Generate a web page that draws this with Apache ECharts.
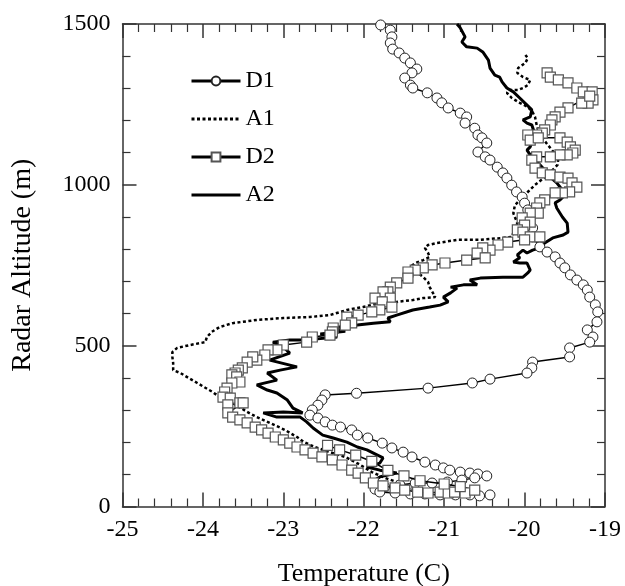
<!DOCTYPE html>
<html>
<head>
<meta charset="utf-8">
<script src="https://cdn.jsdelivr.net/npm/echarts@6/dist/echarts.min.js"></script>
<style>
  html, body { margin: 0; padding: 0; background: #fff; }
  #chart { width: 625px; height: 586px; }
</style>
</head>
<body>
<div id="chart"></div>
<script>
// Temperature profiles: each point is [temperature (C), radar altitude (m)]
const seriesNames = ['D1', 'A1', 'D2', 'A2'];

const d1 = [
  [-21.79,1497],[-21.67,1481],[-21.65,1460],[-21.67,1441],[-21.64,1422],[-21.56,1410],
  [-21.49,1394],[-21.42,1379],[-21.34,1360],[-21.40,1348],[-21.49,1332],[-21.42,1310],
  [-21.39,1301],[-21.21,1286],[-21.09,1270],[-21.03,1255],[-20.95,1239],[-20.80,1223],
  [-20.72,1211],[-20.74,1192],[-20.62,1176],[-20.58,1155],[-20.53,1146],[-20.47,1130],
  [-20.58,1102],[-20.49,1087],[-20.43,1077],[-20.34,1055],[-20.27,1037],[-20.22,1021],
  [-20.16,999],[-20.10,978],[-20.03,962],[-20.00,943],[-19.96,922],[-19.93,897],
  [-19.90,866],[-19.90,838],[-19.81,807],[-19.72,791],[-19.62,776],[-19.56,757],
  [-19.50,742],[-19.43,720],[-19.35,704],[-19.27,689],[-19.22,673],[-19.19,651],
  [-19.12,627],[-19.09,605],[-19.10,574],[-19.22,549],[-19.15,527],[-19.19,511],
  [-19.44,493],[-19.44,465],[-19.90,449],[-19.91,431],[-19.97,415],[-20.43,396],
  [-20.65,384],[-21.20,368],[-22.09,352],[-22.48,347],[-22.52,331],[-22.57,315],
  [-22.64,300],[-22.67,284],[-22.57,275],[-22.48,263],[-22.39,253],[-22.29,247],
  [-22.15,238],[-22.08,222],[-21.95,213],[-21.77,197],[-21.65,182],[-21.51,169],
  [-21.40,154],[-21.24,138],[-21.11,129],[-21.01,120],[-20.93,113],[-20.80,107],
  [-20.68,104],[-20.58,101],[-20.47,95],[-20.62,89],[-20.78,82],[-20.96,76],
  [-21.15,73],[-21.36,73],[-21.55,67],[-21.74,61],[-21.86,54],[-21.80,45],
  [-21.61,42],[-21.42,39],[-21.24,39],[-21.05,36],[-20.86,36],[-20.68,36],
  [-20.56,33],[-20.43,36]
];

const a1 = [
  [-19.99,1404],[-19.96,1394],[-19.99,1379],[-20.08,1363],[-20.09,1348],[-20.02,1335],
  [-19.93,1326],[-19.96,1310],[-20.02,1301],[-20.08,1295],[-20.18,1295],[-20.22,1286],
  [-20.16,1270],[-20.06,1255],[-19.96,1242],[-19.90,1226],[-19.87,1211],[-19.85,1186],
  [-19.81,1155],[-19.71,1124],[-19.58,1083],[-19.59,1062],[-19.71,1031],[-19.87,1000],
  [-20.00,968],[-20.12,937],[-20.14,912],[-20.09,881],[-20.16,838],[-20.27,835],
  [-20.55,829],[-20.84,829],[-21.09,819],[-21.20,813],[-21.24,804],[-21.20,788],
  [-21.18,776],[-21.26,766],[-21.36,757],[-21.42,745],[-21.34,729],[-21.26,713],
  [-21.20,698],[-21.18,682],[-21.14,664],[-21.11,651],[-21.26,648],[-21.39,642],
  [-21.59,636],[-21.80,633],[-22.01,620],[-22.21,611],[-22.42,595],[-22.67,589],
  [-23.00,586],[-23.33,580],[-23.63,570],[-23.79,558],[-23.89,543],[-23.95,527],
  [-23.97,511],[-24.16,502],[-24.32,493],[-24.38,480],[-24.38,465],[-24.37,446],
  [-24.37,424],[-24.28,415],[-24.18,400],[-24.07,384],[-23.99,372],[-23.88,356],
  [-23.79,340],[-23.63,322],[-23.45,294],[-23.33,278],[-23.17,260],[-22.98,238],
  [-22.83,216],[-22.75,201],[-22.61,185],[-22.42,169],[-22.23,154],[-22.04,129],
  [-21.90,107],[-21.74,89],[-21.55,73],[-21.40,60]
];

const d2 = [
  [-19.72,1348],[-19.68,1335],[-19.58,1326],[-19.46,1317],[-19.35,1301],[-19.27,1289],
  [-19.16,1289],[-19.15,1264],[-19.21,1254],[-19.29,1254],[-19.19,1276],[-19.46,1239],
  [-19.56,1226],[-19.62,1211],[-19.66,1202],[-19.68,1186],[-19.75,1171],[-19.78,1161],
  [-19.85,1155],[-19.96,1155],[-19.93,1139],[-19.83,1146],[-19.56,1146],[-19.47,1133],
  [-19.43,1118],[-19.37,1108],[-19.40,1099],[-19.47,1093],[-19.56,1093],[-19.68,1087],
  [-19.85,1087],[-19.91,1077],[-19.87,1052],[-19.78,1037],[-19.68,1031],[-19.56,1024],
  [-19.46,1021],[-19.41,1006],[-19.35,993],[-19.44,978],[-19.53,975],[-19.62,975],
  [-19.75,953],[-19.81,944],[-19.85,928],[-19.83,912],[-19.93,912],[-20.03,897],
  [-19.93,884],[-20.00,875],[-20.09,860],[-20.02,853],[-19.93,838],[-19.81,838],
  [-20.00,829],[-20.21,822],[-20.33,813],[-20.43,797],[-20.52,804],[-20.59,788],
  [-20.49,773],[-20.72,766],[-20.99,757],[-21.15,751],[-21.26,742],[-21.36,735],
  [-21.45,729],[-21.45,710],[-21.59,695],[-21.67,682],[-21.70,667],[-21.76,667],
  [-21.67,648],[-21.86,648],[-21.77,636],[-21.65,620],[-21.80,611],[-21.90,605],
  [-22.07,595],[-22.21,589],[-22.15,571],[-22.23,564],[-22.38,555],[-22.39,543],
  [-22.42,533],[-22.64,527],[-22.71,511],[-23.00,502],[-23.08,487],[-23.19,487],
  [-23.23,471],[-23.33,455],[-23.38,465],[-23.45,449],[-23.51,431],[-23.56,424],
  [-23.60,415],[-23.64,409],[-23.58,403],[-23.54,387],[-23.64,384],[-23.70,368],
  [-23.73,356],[-23.75,340],[-23.66,337],[-23.69,316],[-23.54,322],[-23.50,322],
  [-23.69,291],[-23.63,278],[-23.54,269],[-23.45,260],[-23.35,247],[-23.27,238],
  [-23.19,228],[-23.10,216],[-23.00,207],[-22.92,197],[-22.83,185],[-22.73,176],
  [-22.63,166],[-22.52,154],[-22.39,145],[-22.27,129],[-22.15,113],[-22.07,104],
  [-21.98,89],[-21.88,73],[-21.76,64],[-21.61,58],[-21.49,51],[-21.33,45],
  [-21.20,42],[-21.05,45],[-20.95,42],[-20.87,45],[-20.74,42],[-20.62,51],
  [-20.80,62],[-21.00,70],[-21.30,80],[-21.50,95],[-21.70,112],[-21.90,140],
  [-22.10,160],[-22.30,176],[-22.45,190]
];

const a2 = [
  [-20.84,1500],[-20.80,1488],[-20.74,1460],[-20.78,1444],[-20.72,1429],[-20.59,1425],
  [-20.52,1413],[-20.45,1388],[-20.43,1363],[-20.37,1341],[-20.31,1335],[-20.28,1320],
  [-20.22,1301],[-20.14,1289],[-20.06,1270],[-19.97,1248],[-19.91,1233],[-19.93,1211],
  [-20.02,1202],[-19.97,1192],[-19.91,1186],[-19.89,1171],[-19.91,1155],[-19.97,1146],
  [-19.91,1133],[-19.93,1118],[-19.97,1108],[-19.93,1093],[-19.87,1077],[-19.81,1062],
  [-19.75,1046],[-19.68,1024],[-19.60,1006],[-19.53,984],[-19.50,968],[-19.56,953],
  [-19.62,944],[-19.60,928],[-19.53,900],[-19.47,881],[-19.46,853],[-19.52,844],
  [-19.65,835],[-19.75,819],[-19.81,804],[-19.90,797],[-19.97,788],[-20.02,797],
  [-20.09,782],[-20.06,773],[-20.14,760],[-20.06,757],[-19.97,757],[-19.93,735],
  [-19.96,726],[-20.02,713],[-20.27,713],[-20.55,710],[-20.68,704],[-20.59,689],
  [-20.76,689],[-20.92,682],[-20.84,679],[-20.92,664],[-21.01,651],[-20.95,636],
  [-21.05,626],[-21.18,620],[-21.39,611],[-21.59,595],[-21.70,586],[-21.67,574],
  [-21.88,570],[-22.08,564],[-22.29,558],[-22.42,555],[-22.23,545],[-22.54,536],
  [-22.33,527],[-22.71,518],[-22.92,518],[-23.13,511],[-23.00,496],[-22.92,477],
  [-23.17,455],[-22.83,434],[-23.04,424],[-23.20,415],[-23.08,393],[-23.33,378],
  [-23.20,362],[-23.08,353],[-22.95,331],[-22.88,306],[-22.76,291],[-23.00,294],
  [-23.25,291],[-23.08,278],[-22.79,278],[-22.71,263],[-22.63,244],[-22.51,222],
  [-22.38,213],[-22.21,200],[-22.08,185],[-21.96,176],[-21.83,160],[-21.76,151],
  [-21.80,135],[-21.96,123],[-21.80,113],[-21.59,104],[-21.80,92],[-21.90,76],
  [-21.70,55]
];

const xTicks = { min: -25, max: -19, interval: 1 };
const yTicks = { min: 0, max: 1500, interval: 500 };

const serif = 'Liberation Serif';
const axisColor = '#333';
const tickFont = 24;
const xTitleFont = 26;
const yTitleFont = 28;

function axisBase(extra) {
  return Object.assign({
    type: 'value',
    axisLine: { show: true, onZero: false, lineStyle: { color: axisColor, width: 1.5 } },
    axisTick: { show: true, inside: true, length: 14, lineStyle: { color: axisColor, width: 1.5 } },
    minorTick: { show: true, splitNumber: 5, length: 8, lineStyle: { color: axisColor, width: 1.2 } },
    splitLine: { show: false }
  }, extra);
}

const chart = echarts.init(document.getElementById('chart'));
chart.setOption({
  animation: false,
  backgroundColor: '#fff',
  grid: { left: 122.5, right: 20, top: 24, bottom: 79.5, containLabel: false, outerBoundsMode: 'none' },
  legend: {
    orient: 'vertical',
    left: 190,
    top: 69,
    padding: 0,
    itemWidth: 49,
    itemHeight: 11,
    itemGap: 14,
    data: [
      { name: 'D1' },
      { name: 'A1', itemStyle: { opacity: 0 } },
      { name: 'D2' },
      { name: 'A2', itemStyle: { opacity: 0 } }
    ],
    lineStyle: { width: 3 },
    textStyle: { fontFamily: serif, fontSize: tickFont, color: '#000', lineHeight: 24 }
  },
  xAxis: [
    axisBase(Object.assign({}, xTicks, {
      position: 'bottom',
      name: 'Temperature (C)',
      nameLocation: 'middle',
      nameGap: 55,
      nameTextStyle: { fontFamily: serif, fontSize: xTitleFont, color: '#000' },
      axisLabel: { color: '#000', fontFamily: serif, fontSize: tickFont, margin: 11 }
    })),
    axisBase(Object.assign({}, xTicks, {
      position: 'top',
      axisLabel: { show: false }
    }))
  ],
  yAxis: [
    axisBase(Object.assign({}, yTicks, {
      position: 'left',
      name: 'Radar Altitude (m)',
      nameLocation: 'middle',
      nameGap: 86,
      nameTextStyle: { fontFamily: serif, fontSize: yTitleFont, color: '#000' },
      axisLabel: {
        color: '#000', fontFamily: serif, fontSize: tickFont, margin: 12,
        formatter: v => String(v)
      }
    })),
    axisBase(Object.assign({}, yTicks, {
      position: 'right',
      axisLabel: { show: false }
    }))
  ],
  series: [
    {
      name: 'A1', type: 'line', data: a1, xAxisIndex: 0, yAxisIndex: 0,
      showSymbol: false, symbol: 'none', z: 2,
      lineStyle: { color: '#000', width: 2.5, type: [3, 2.5] },
      itemStyle: { color: '#000' }
    },
    {
      name: 'A2', type: 'line', data: a2, xAxisIndex: 0, yAxisIndex: 0,
      showSymbol: false, symbol: 'none', z: 2,
      lineStyle: { color: '#000', width: 3 },
      itemStyle: { color: '#000' }
    },
    {
      name: 'D1', type: 'line', data: d1, xAxisIndex: 0, yAxisIndex: 0,
      symbol: 'circle', symbolSize: 10, z: 3,
      lineStyle: { color: '#000', width: 1.5 },
      itemStyle: { color: '#fff', borderColor: '#222', borderWidth: 1 }
    },
    {
      name: 'D2', type: 'line', data: d2, xAxisIndex: 0, yAxisIndex: 0,
      symbol: 'rect', symbolSize: 10, z: 4,
      lineStyle: { color: '#000', width: 1.5 },
      itemStyle: { color: '#fff', borderColor: '#555', borderWidth: 1.2 }
    }
  ]
});
</script>
</body>
</html>
